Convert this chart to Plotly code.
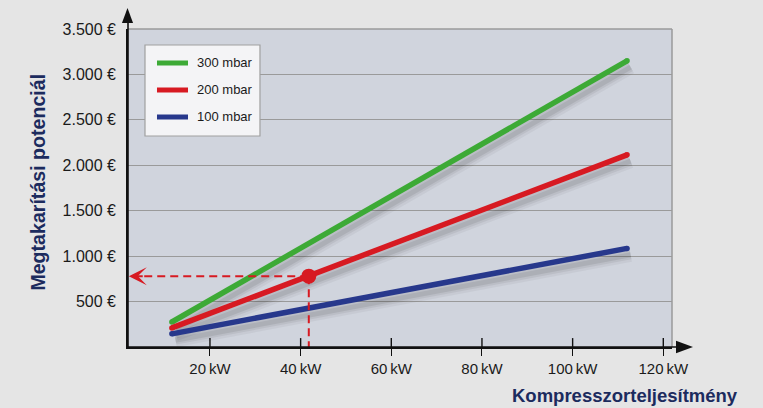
import plotly.graph_objects as go

# ---------------- data ----------------
power_kw = [11.6, 112.0]
series_names = ["300 mbar", "200 mbar", "100 mbar"]
savings_300 = [275, 3150]
savings_200 = [210, 2115]
savings_100 = [145, 1085]
series_colors = ["#3daa36", "#d71a22", "#27388c"]

highlight_kw = 41.8
highlight_value = 780
arrow_tip_kw = 2.1

y_ticks = [500, 1000, 1500, 2000, 2500, 3000, 3500]
y_tick_labels = ["500 €", "1.000 €", "1.500 €", "2.000 €", "2.500 €", "3.000 €", "3.500 €"]
x_ticks = [20, 40, 60, 80, 100, 120]
x_tick_labels = ["20\u2009kW", "40\u2009kW", "60\u2009kW", "80\u2009kW", "100\u2009kW", "120\u2009kW"]

x_range = [1.92, 121.92]
y_range = [0, 3500]

FONT = "Liberation Sans, Arial, Helvetica, sans-serif"
NAVY = "#1c2b5e"
RED = "#d71a22"

series = [savings_300, savings_200, savings_100]

fig = go.Figure()

# shadows
shadow_dx = 0.8
shadow_dy = -70
for vals in series:
    for w, op in [(14, 0.045), (9, 0.06), (5, 0.08)]:
        fig.add_trace(go.Scatter(
            x=[v + shadow_dx for v in power_kw],
            y=[v + shadow_dy for v in vals],
            mode="lines",
            line=dict(color=f"rgba(0,0,0,{op})", width=w),
            hoverinfo="skip", showlegend=False))

# main lines
for name, vals, col in zip(series_names, series, series_colors):
    fig.add_trace(go.Scatter(
        x=power_kw, y=vals, mode="lines+markers", name=name,
        line=dict(color=col, width=5.5),
        marker=dict(color=col, size=5.5, line=dict(width=0)),
        showlegend=False))

# dashed guide lines
fig.add_trace(go.Scatter(
    x=[arrow_tip_kw + 3.4, highlight_kw], y=[highlight_value, highlight_value],
    mode="lines", line=dict(color=RED, width=2, dash="8px,5px"),
    hoverinfo="skip", showlegend=False))
fig.add_trace(go.Scatter(
    x=[highlight_kw, highlight_kw], y=[highlight_value, 0],
    mode="lines", line=dict(color=RED, width=2, dash="8px,5px"),
    hoverinfo="skip", showlegend=False))
fig.add_trace(go.Scatter(
    x=[highlight_kw], y=[highlight_value], mode="markers",
    marker=dict(color=RED, size=15, line=dict(width=0)),
    hoverinfo="skip", showlegend=False))

# arrow head of horizontal guide
fig.add_annotation(x=arrow_tip_kw, y=highlight_value, ax=arrow_tip_kw + 3.4, ay=highlight_value,
                   xref="x", yref="y", axref="x", ayref="y", text="", showarrow=True,
                   arrowhead=3, arrowsize=1.5, arrowwidth=2, arrowcolor=RED)

shapes = []
# plot border (top / right, grey)
shapes.append(dict(type="line", xref="paper", yref="paper", x0=0, x1=1, y0=1, y1=1,
                   line=dict(color="#9a9a9a", width=1.5), layer="below"))
shapes.append(dict(type="line", xref="paper", yref="paper", x0=1, x1=1, y0=0, y1=1,
                   line=dict(color="#9a9a9a", width=1.5), layer="below"))
# axis extensions and arrows
shapes.append(dict(type="line", xref="paper", yref="paper", x0=0, x1=0, y0=0, y1=1.02,
                   line=dict(color="#111111", width=1.6)))
shapes.append(dict(type="path", xref="paper", yref="paper",
                   path="M -0.0009 1.066 L -0.0111 1.019 L 0.0093 1.019 Z",
                   fillcolor="#111111", line=dict(width=0)))
shapes.append(dict(type="line", xref="paper", yref="paper", x0=0, x1=1.008, y0=0, y1=0,
                   line=dict(color="#111111", width=1.6)))
shapes.append(dict(type="path", xref="paper", yref="paper",
                   path="M 1.0386 0 L 1.0074 0.0195 L 1.0074 -0.0195 Z",
                   fillcolor="#111111", line=dict(width=0)))
# inner halves of x ticks
for t in x_ticks:
    shapes.append(dict(type="line", xref="x", yref="paper", x0=t, x1=t, y0=0, y1=0.028,
                       line=dict(color="#111111", width=1.4)))

# manual legend
shapes.append(dict(type="rect", xref="paper", yref="paper", x0=0.03125, x1=0.2426,
                   y0=0.6635, y1=0.9497, fillcolor="#f4f4f6",
                   line=dict(color="#a0a0a0", width=1.2)))
legend_y = [0.8931, 0.8082, 0.7233]
for name, col, ly in zip(series_names, series_colors, legend_y):
    shapes.append(dict(type="line", xref="paper", yref="paper", x0=0.0533, x1=0.1103,
                       y0=ly, y1=ly, line=dict(color=col, width=5)))
    fig.add_annotation(x=0.1232, y=ly, xref="paper", yref="paper", text=name,
                       showarrow=False, xanchor="left", yanchor="middle",
                       font=dict(family=FONT, size=13, color="#1a1a1a"))

# axis titles
fig.add_annotation(x=-0.1654, y=0.517, xref="paper", yref="paper",
                   text="<b>Megtakarítási potenciál</b>", textangle=-90, showarrow=False,
                   xanchor="center", yanchor="middle",
                   font=dict(family=FONT, size=19.6, color=NAVY))
fig.add_annotation(x=0.9136, y=-0.154, xref="paper", yref="paper",
                   text="<b>Kompresszorteljesítmény</b>", showarrow=False,
                   xanchor="center", yanchor="middle",
                   font=dict(family=FONT, size=18.5, color=NAVY))

fig.update_layout(
    width=763, height=408,
    margin=dict(l=128, r=91, t=29, b=61),
    paper_bgcolor="#e5e5e5",
    plot_bgcolor="#d0d4dd",
    shapes=shapes,
    showlegend=False,
    xaxis=dict(range=x_range, tickvals=x_ticks, ticktext=x_tick_labels,
               showgrid=False, zeroline=False, showline=True, linecolor="#111111",
               linewidth=1.6, ticks="outside", ticklen=7, tickwidth=1.4, tickcolor="#111111",
               tickfont=dict(family=FONT, size=15, color="#1a1a1a"), fixedrange=True),
    yaxis=dict(range=y_range, tickvals=y_ticks, ticktext=y_tick_labels,
               showgrid=True, gridcolor="#9a9a9a", gridwidth=1.2, zeroline=False,
               showline=True, linecolor="#111111", linewidth=1.6,
               ticks="outside", ticklen=7, tickcolor="rgba(0,0,0,0)",
               tickfont=dict(family=FONT, size=16, color="#1a1a1a"), fixedrange=True),
)

fig.write_html("out.html", config={"displayModeBar": False},
               post_script="document.body.style.margin='0';document.body.style.overflow='hidden';")
